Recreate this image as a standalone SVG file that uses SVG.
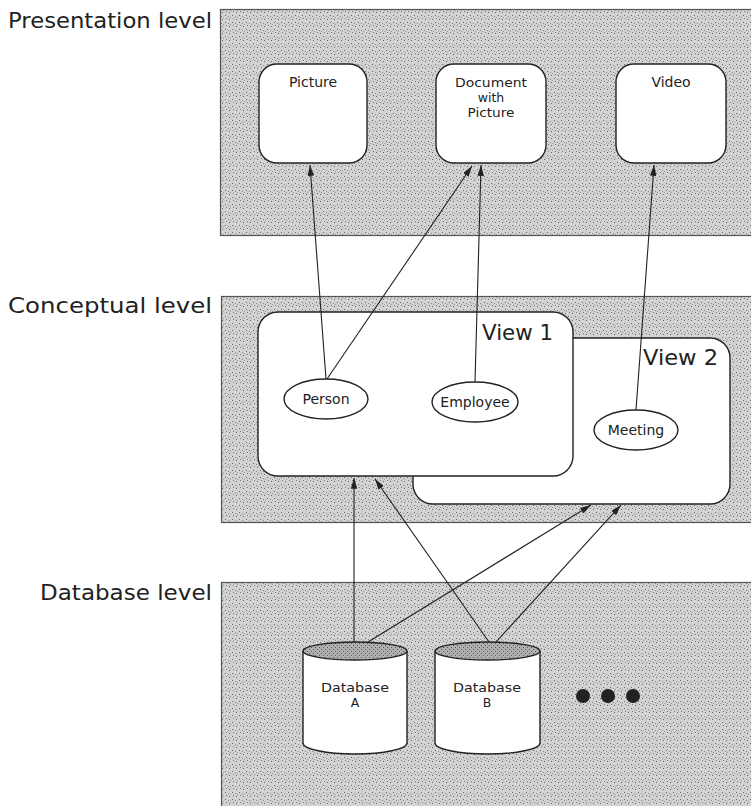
<svg xmlns="http://www.w3.org/2000/svg" width="751" height="806" viewBox="0 0 751 806">
<style>
.lbl{font-family:"DejaVu Sans","Liberation Sans",sans-serif;font-size:21px;fill:#222}
.t{font-family:"DejaVu Sans","Liberation Sans",sans-serif;font-size:14px;fill:#222;text-anchor:middle}
.t2{font-family:"DejaVu Sans","Liberation Sans",sans-serif;font-size:12.5px;fill:#222;text-anchor:middle}
.vw{font-family:"DejaVu Sans","Liberation Sans",sans-serif;font-size:21px;fill:#222}
.panel{fill:url(#stip);stroke:#555;stroke-width:1.2}
.box{fill:#fff;stroke:#222;stroke-width:1.4}
.conn{stroke:#222;stroke-width:1.1;fill:none;marker-end:url(#ah)}
</style>
<defs>
<pattern id="stip" width="7" height="7" patternUnits="userSpaceOnUse">
<rect width="7" height="7" fill="#d2d2d2"/>
<rect x="1" y="1" width="1" height="1" fill="#6a6a6a"/>
<rect x="4" y="2" width="1" height="1" fill="#888"/>
<rect x="2" y="4" width="1" height="1" fill="#777"/>
<rect x="5" y="5" width="1" height="1" fill="#666"/>
<rect x="6" y="3" width="1" height="1" fill="#999"/>
</pattern>
<pattern id="stip2" width="4" height="4" patternUnits="userSpaceOnUse">
<rect width="4" height="4" fill="#b0b0b0"/>
<rect x="1" y="1" width="1" height="1" fill="#555"/>
<rect x="3" y="3" width="1" height="1" fill="#555"/>
</pattern>
<marker id="ah" viewBox="0 0 10 6" refX="10" refY="3" markerWidth="11" markerHeight="6.5" markerUnits="userSpaceOnUse" orient="auto">
<path d="M0,0 L10,3 L0,6 z" fill="#222"/>
</marker>
</defs>

<g id="presentation-level">
<rect class="panel" x="220.5" y="9.5" width="545" height="226"/>
<text class="lbl" x="212" y="28" text-anchor="end" textLength="204" lengthAdjust="spacingAndGlyphs">Presentation level</text>
</g>
<g id="conceptual-level">
<rect class="panel" x="221.5" y="296.5" width="545" height="226"/>
<text class="lbl" x="212" y="313" text-anchor="end" textLength="204" lengthAdjust="spacingAndGlyphs">Conceptual level</text>
</g>
<g id="database-level">
<rect class="panel" x="221.5" y="582.5" width="545" height="240"/>
<text class="lbl" x="212" y="600" text-anchor="end" textLength="172" lengthAdjust="spacingAndGlyphs">Database level</text>
</g>

<g id="picture">
<rect class="box" x="259" y="64" width="108" height="99" rx="18"/>
<text class="t" x="313" y="87">Picture</text>
</g>
<g id="document">
<rect class="box" x="436" y="64" width="110" height="99" rx="18"/>
<text class="t2" x="491" y="87" textLength="72" lengthAdjust="spacingAndGlyphs">Document</text>
<text class="t2" x="491" y="102">with</text>
<text class="t2" x="491" y="117" textLength="47" lengthAdjust="spacingAndGlyphs">Picture</text>
</g>
<g id="video">
<rect class="box" x="616" y="64" width="110" height="99" rx="18"/>
<text class="t" x="671" y="87">Video</text>
</g>

<g id="view2">
<rect class="box" x="413" y="338" width="317" height="166" rx="20"/>
<text class="vw" x="643" y="365" textLength="75" lengthAdjust="spacingAndGlyphs">View 2</text>
</g>
<g id="view1">
<rect class="box" x="258" y="312" width="315" height="164" rx="20"/>
<text class="vw" x="482" y="340" textLength="71" lengthAdjust="spacingAndGlyphs">View 1</text>
</g>
<g id="person">
<ellipse class="box" cx="326" cy="399" rx="42" ry="20"/>
<text class="t" x="326" y="404">Person</text>
</g>
<g id="employee">
<ellipse class="box" cx="475" cy="402" rx="43" ry="20"/>
<text class="t" x="475" y="407">Employee</text>
</g>
<g id="meeting">
<ellipse class="box" cx="636" cy="430" rx="42" ry="20"/>
<text class="t" x="636" y="435">Meeting</text>
</g>

<g id="database-a">
<path class="box" d="M303,651 L303,743 A52,11 0 0 0 407,743 L407,651"/>
<ellipse cx="355" cy="651" rx="52" ry="9" fill="url(#stip2)" stroke="#222" stroke-width="1.4"/>
<text class="t2" x="355" y="692" textLength="68" lengthAdjust="spacingAndGlyphs">Database</text>
<text class="t2" x="355" y="707">A</text>
</g>
<g id="database-b">
<path class="box" d="M435,651 L435,743 A52.5,11 0 0 0 540,743 L540,651"/>
<ellipse cx="487.5" cy="651" rx="52.5" ry="9" fill="url(#stip2)" stroke="#222" stroke-width="1.4"/>
<text class="t2" x="487" y="692" textLength="68" lengthAdjust="spacingAndGlyphs">Database</text>
<text class="t2" x="487" y="707">B</text>
</g>
<g id="more">
<circle cx="583" cy="696" r="7" fill="#222"/>
<circle cx="608" cy="696" r="7" fill="#222"/>
<circle cx="633" cy="696" r="7" fill="#222"/>
</g>

<g id="connectors">
<line class="conn" x1="326" y1="379" x2="310" y2="165"/>
<line class="conn" x1="327" y1="379" x2="472" y2="166"/>
<line class="conn" x1="475" y1="382" x2="481" y2="165"/>
<line class="conn" x1="636" y1="410" x2="654" y2="165"/>
<line class="conn" x1="354" y1="642" x2="354" y2="478"/>
<line class="conn" x1="368" y1="642" x2="591" y2="505"/>
<line class="conn" x1="489" y1="642" x2="375" y2="479"/>
<line class="conn" x1="496" y1="642" x2="621" y2="505"/>
</g>
</svg>
